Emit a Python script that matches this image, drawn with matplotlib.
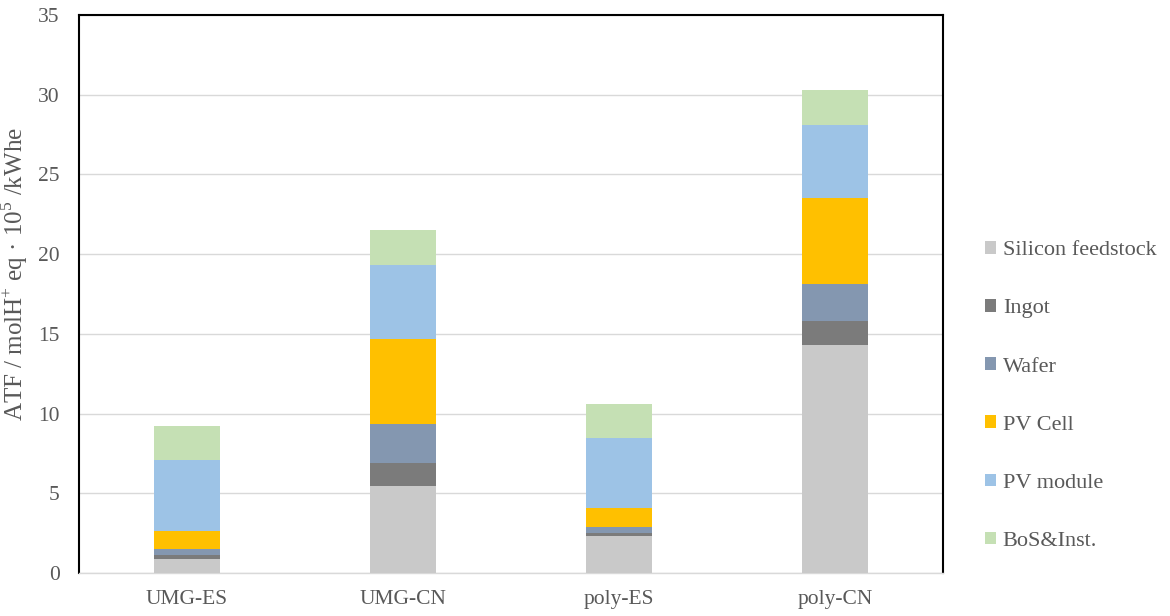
import matplotlib.pyplot as plt
import numpy as np

plt.rcParams['font.family'] = ['Liberation Serif', 'DejaVu Serif']
plt.rcParams['mathtext.fontset'] = 'custom'
plt.rcParams['mathtext.rm'] = 'Liberation Serif'

categories = ["UMG-ES", "UMG-CN", "poly-ES", "poly-CN"]
stages = ["Silicon feedstock", "Ingot", "Wafer", "PV Cell", "PV module", "BoS&Inst."]
silicon = [0.90, 5.45, 2.34, 14.32]
ingot = [0.25, 1.44, 0.18, 1.46]
wafer = [0.33, 2.44, 0.36, 2.36]
pv_cell = [1.15, 5.32, 1.17, 5.36]
pv_module = [4.44, 4.70, 4.42, 4.60]
bos = [2.13, 2.19, 2.11, 2.20]
colors = ["#C9C9C9", "#7B7B7B", "#8497B0", "#FFC000", "#9DC3E6", "#C5E0B4"]

text_color = "#595959"

fig = plt.figure(figsize=(11.7, 6.16), dpi=100)
ax = fig.add_axes([79/1170, 43/616, 864/1170, 558/616])

x = np.arange(len(categories))
bottom = np.zeros(len(categories))
for name, vals, c in zip(stages, [silicon, ingot, wafer, pv_cell, pv_module, bos], colors):
    ax.bar(x, vals, width=0.31, bottom=bottom, color=c, label=name, zorder=3)
    bottom += np.array(vals)

ax.set_xlim(-0.5, 3.5)
ax.set_ylim(0, 35)
ax.set_yticks(range(0, 36, 5))
ax.set_xticks(x)
ax.set_xticklabels(categories)
ax.yaxis.grid(True, color="#D9D9D9", linewidth=1, zorder=0)
ax.tick_params(length=0, labelsize=15.5, colors=text_color)
ax.tick_params(axis='x', pad=12)
ax.tick_params(axis='y', pad=14)

for s in ["left", "top", "right"]:
    ax.spines[s].set_color("black")
    ax.spines[s].set_linewidth(1.5)
ax.spines["bottom"].set_color("#D9D9D9")
ax.spines["bottom"].set_linewidth(1)

ax.set_ylabel(r"ATF / molH$^{+}$ eq · 10$^{5}$ /kWhe", fontsize=18, color=text_color)
ax.yaxis.set_label_coords(-0.057, 0.535)

fig.legend(loc="center left", bbox_to_anchor=(985/1170, 1 - 396/616), frameon=False,
           prop={'family': 'Liberation Serif', 'size': 16}, labelcolor=text_color,
           handlelength=0.5, handleheight=0.5,
           handletextpad=0.3, labelspacing=1.75, borderpad=0, borderaxespad=0)

plt.savefig("out.png", dpi=100)
